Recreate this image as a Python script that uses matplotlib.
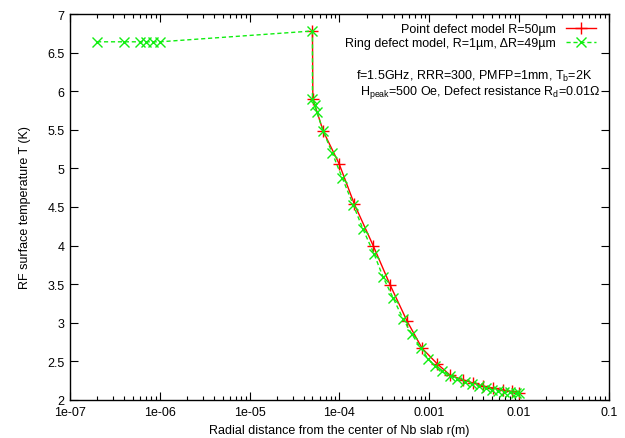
import numpy as np
import matplotlib
matplotlib.use('Agg')
import matplotlib.pyplot as plt
from matplotlib.ticker import FixedLocator, FixedFormatter, LogLocator, NullFormatter, MultipleLocator

plt.rcParams['font.family'] = ['Liberation Sans', 'DejaVu Sans']
plt.rcParams['font.size'] = 9
plt.rcParams['mathtext.fontset'] = 'custom'
plt.rcParams['mathtext.rm'] = 'Liberation Sans'
plt.rcParams['mathtext.it'] = 'Liberation Sans:italic'

# Point defect model R=50um
r_point = [5.0e-5, 5.05e-5, 6.6e-5, 9.9e-5, 1.46e-4, 2.37e-4, 3.66e-4, 5.66e-4,
           8.3e-4, 1.22e-3, 1.71e-3, 2.38e-3, 3.08e-3, 3.97e-3, 5.1e-3, 6.6e-3,
           8.3e-3, 1.0e-2]
t_point = [6.78, 5.90, 5.48, 5.06, 4.54, 4.00, 3.49, 3.02,
           2.67, 2.47, 2.32, 2.26, 2.22, 2.18, 2.155, 2.13,
           2.11, 2.09]

# Ring defect model R=1um, dR=49um
r_ring = [2.0e-7, 4.0e-7, 6.0e-7, 7.0e-7, 8.5e-7, 1.0e-6,
          5.0e-5, 5.0e-5, 5.3e-5, 5.6e-5, 6.6e-5, 8.3e-5, 1.07e-4, 1.42e-4,
          1.83e-4, 2.43e-4, 3.06e-4, 3.96e-4, 5.1e-4, 6.4e-4, 8.1e-4,
          9.7e-4, 1.16e-3, 1.39e-3, 1.71e-3, 2.04e-3, 2.5e-3, 3.0e-3,
          3.6e-3, 4.3e-3, 5.0e-3, 5.8e-3, 6.8e-3, 7.9e-3, 9.3e-3, 1.0e-2]
t_ring = [6.64, 6.64, 6.64, 6.64, 6.64, 6.64,
          6.78, 5.90, 5.82, 5.73, 5.48, 5.20, 4.88, 4.53,
          4.21, 3.89, 3.59, 3.32, 3.05, 2.85, 2.67,
          2.53, 2.44, 2.38, 2.31, 2.27, 2.23, 2.21,
          2.18, 2.15, 2.13, 2.12, 2.10, 2.10, 2.09, 2.09]

xticks = [1e-7, 1e-6, 1e-5, 1e-4, 1e-3, 1e-2, 1e-1]
xticklabels = ['1e-07', '1e-06', '1e-05', '1e-04', '0.001', '0.01', '0.1']

fig = plt.figure(figsize=(6.25, 4.39), dpi=100)
ax = fig.add_axes([0.112, 0.0866, 0.8624, 0.8792])

ax.plot(r_point, t_point, color='#ff0000', linestyle='-', linewidth=1.0,
        marker='+', markersize=9, markeredgewidth=1.0,
        label='Point defect model R=50µm')
ax.plot(r_ring, t_ring, color='#11ee11', linestyle='--', dashes=(3, 2), linewidth=1.0,
        marker='x', markersize=7, markeredgewidth=1.0,
        label='Ring defect model, R=1µm, ΔR=49µm')

ax.set_xscale('log')
ax.set_xlim(1e-7, 1e-1)
ax.set_ylim(2, 7)
ax.xaxis.set_major_locator(FixedLocator(xticks))
ax.xaxis.set_major_formatter(FixedFormatter(xticklabels))
ax.xaxis.set_minor_locator(LogLocator(base=10, subs=np.arange(2, 10), numticks=20))
ax.xaxis.set_minor_formatter(NullFormatter())
ax.yaxis.set_major_locator(MultipleLocator(0.5))
ax.yaxis.set_major_formatter(plt.FuncFormatter(lambda v, p: ('%g' % v)))

ax.tick_params(which='both', direction='in', top=True, right=True, width=0.8)
ax.tick_params(which='major', length=6, pad=4)
ax.tick_params(which='minor', length=3)
for s in ax.spines.values():
    s.set_linewidth(1.0)

ax.set_xlabel('Radial distance from the center of Nb slab r(m)', labelpad=5)
ax.set_ylabel('RF surface temperature T (K)', labelpad=12)

leg = ax.legend(loc='upper right', bbox_to_anchor=(0.99, 0.995), frameon=False,
                markerfirst=False, handlelength=2.4, handletextpad=0.8,
                labelspacing=0.15, borderaxespad=0.2)

ax.text(0.970, 0.842, 'f=1.5GHz, RRR=300, PMFP=1mm, T$_\\mathrm{b}$=2K',
        transform=ax.transAxes, ha='right', va='center')
ax.text(0.985, 0.80, 'H$_\\mathrm{peak}$=500 Oe, Defect resistance R$_\\mathrm{d}$=0.01Ω',
        transform=ax.transAxes, ha='right', va='center')

fig.savefig('out.png', dpi=100)
